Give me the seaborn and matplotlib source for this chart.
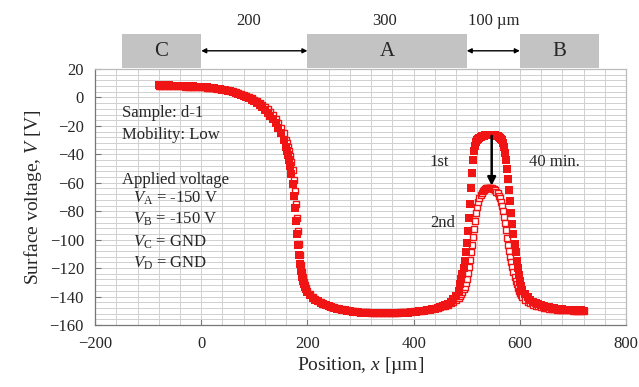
import matplotlib
matplotlib.use("Agg")
import matplotlib.pyplot as plt
from matplotlib.patches import Rectangle
from matplotlib.ticker import MultipleLocator
import seaborn as sns
import pandas as pd

# ---------------- data ----------------
position = [
    -80, -75, -70, -65, -60, -55, -50, -45, -40, -35, -30, -25, -20, -15, -10, -5,
    0, 5, 10, 15, 20, 25, 30, 35, 40, 45, 50, 55, 60, 65, 70, 75, 80, 85, 90, 95,
    100, 105, 110, 115, 120, 125, 130, 135, 140, 145, 150, 155, 160,
    162, 164, 166, 168, 170, 172, 174, 176, 178, 180, 182, 184, 186, 188, 190,
    192, 194, 196, 198, 200,
    205, 210, 215, 220, 225, 230, 235, 240, 245, 250, 255, 260, 265, 270, 275,
    280, 285, 290, 295, 300, 305, 310, 315, 320, 325, 330, 335, 340, 345, 350,
    355, 360, 365, 370, 375, 380, 385, 390, 395, 400, 405, 410, 415, 420, 425,
    430, 435, 440, 445, 450, 455, 460, 465, 470, 475, 480, 485,
    488, 490, 492, 494, 496, 498, 500, 502, 504, 506, 508, 510, 512, 514, 516,
    518, 520, 522, 524, 526, 528, 530, 532, 534, 536, 538, 540, 542, 544, 546,
    548, 550, 552, 554, 556, 558, 560, 562, 564, 566, 568, 570, 572, 574, 576,
    578, 580, 582, 584, 586, 588, 590, 592, 594, 596, 598, 600, 602, 604,
    610, 615, 620, 625, 630, 635, 640, 645, 650, 655, 660, 665, 670, 675, 680,
    685, 690, 695, 700, 705, 710, 715, 720,
]

v_first = [
    8.5, 8.5, 8.5, 8.4, 8.4, 8.3, 8.3, 8.2, 8.1, 8.0, 8.0, 7.9, 7.8, 7.7, 7.6, 7.5,
    7.4, 7.2, 7.0, 6.8, 6.6, 6.4, 6.1, 5.8, 5.5, 5.1, 4.7, 4.2, 3.7, 3.1, 2.5, 1.8,
    1.1, 0.3, -0.6, -1.6, -2.7, -3.9, -5.3, -6.9, -8.7, -10.7, -12.9, -15.4, -18.2,
    -21.5, -25.3, -29.8, -35.0,
    -37.5, -40.5, -44, -48.5, -54, -61, -69, -78, -87, -96, -104, -111, -117, -122,
    -126, -129, -131.5, -133.5, -135, -136.5,
    -139, -140.8, -142.2, -143.4, -144.4, -145.3, -146.1, -146.8, -147.4, -148,
    -148.5, -149, -149.4, -149.8, -150.1, -150.4, -150.7, -150.9, -151.1, -151.3,
    -151.4, -151.5, -151.6, -151.7, -151.8, -151.8, -151.9, -151.9, -151.9, -151.9,
    -151.9, -151.8, -151.8, -151.7, -151.6, -151.5, -151.4, -151.3, -151.1, -150.9,
    -150.7, -150.5, -150.3, -150.0, -149.7, -149.4, -149.0, -148.6, -148.1, -147.5,
    -146.8, -146.0, -145.0, -143.6, -141.8, -139.3, -136.0,
    -131, -128, -124, -120, -115, -109, -102, -94, -85, -75,
    -64, -53, -44, -38, -34, -31.5, -30, -29, -28.3, -27.8,
    -27.4, -27.1, -26.9, -26.7, -26.6, -26.5, -26.4, -26.4, -26.4, -26.4,
    -26.4, -26.5, -26.6, -26.7, -26.9, -27.2, -27.6, -28.2, -29, -30.2,
    -32, -35, -39, -44, -50, -57, -65, -73, -81, -89,
    -96, -103, -109, -115, -120, -125, -129, -132.5, -135.5,
    -138.5, -140.5, -142.2, -143.5, -144.5, -145.3, -146, -146.6, -147.1, -147.5,
    -147.9, -148.2, -148.5, -148.7, -148.9, -149.1, -149.3, -149.4, -149.5, -149.6,
    -149.7, -149.8, -149.9,
]

v_second = [
    8.0, 8.0, 8.0, 8.0, 7.9, 7.9, 7.8, 7.8, 7.7, 7.7, 7.6, 7.5, 7.5, 7.4, 7.3, 7.2,
    7.1, 7.0, 6.9, 6.7, 6.5, 6.3, 6.1, 5.9, 5.6, 5.3, 5.0, 4.6, 4.2, 3.7, 3.2, 2.6,
    1.9, 1.2, 0.4, -0.5, -1.5, -2.6, -3.8, -5.2, -6.7, -8.4, -10.3, -12.5, -15.0,
    -17.9, -21.3, -25.3, -30.0,
    -32, -34.5, -37.5, -41, -45.5, -51, -58, -66, -75, -84.5, -94, -103, -111,
    -117.5, -122.5, -126.5, -129.5, -132, -134, -135.8,
    -138.4, -140.3, -141.8, -143.0, -144.0, -144.9, -145.7, -146.4, -147.0, -147.6,
    -148.1, -148.6, -149.0, -149.4, -149.7, -150.0, -150.3, -150.5, -150.7, -150.9,
    -151.0, -151.1, -151.2, -151.3, -151.4, -151.4, -151.5, -151.5, -151.5, -151.5,
    -151.5, -151.4, -151.4, -151.3, -151.2, -151.1, -151.0, -150.9, -150.7, -150.5,
    -150.3, -150.1, -149.9, -149.6, -149.3, -149.0, -148.7, -148.3, -147.9, -147.4,
    -146.9, -146.3, -145.6, -144.7, -143.6, -142.3, -140.8,
    -139.5, -138.3, -136.8, -135, -133, -130.7, -128, -123.5, -119, -114,
    -109, -103.5, -98, -92.5, -87, -81.5, -77, -73.5, -70.8, -68.6,
    -67, -65.8, -64.9, -64.3, -63.9, -63.7, -63.6, -63.6, -63.6, -63.7,
    -63.9, -64.2, -64.7, -65.4, -66.3, -67.5, -69.0, -71.0, -73.5, -76.5,
    -80, -84, -88.5, -93.5, -98.5, -103.5, -108, -112, -116, -119.5,
    -123, -126, -129, -131.5, -134, -136, -137.8, -139.2, -140.4,
    -142.6, -143.8, -144.8, -145.6, -146.3, -146.9, -147.4, -147.8, -148.2, -148.5,
    -148.8, -149.0, -149.2, -149.4, -149.5, -149.6, -149.7, -149.8, -149.9, -150.0,
    -150.0, -150.1, -150.1,
]

electrode_names = ["C", "A", "B"]
electrode_start = [-150, 200, 600]
electrode_end = [0, 500, 750]
gap_labels = ["200", "300", "100 µm"]
gap_label_x = [90, 345, 550]

# ---------------- style ----------------
sns.set_theme(style="white")
plt.rcParams["font.family"] = ["Liberation Serif", "DejaVu Serif"]
plt.rcParams["mathtext.fontset"] = "custom"
plt.rcParams["mathtext.rm"] = "Liberation Serif"
plt.rcParams["mathtext.it"] = "Liberation Serif:italic"
plt.rcParams["mathtext.bf"] = "Liberation Serif:bold"

fig = plt.figure(figsize=(6.39, 3.87), dpi=100)
ax = fig.add_axes([0.1487, 0.1602, 0.8310, 0.6615])

df1 = pd.DataFrame({"x": position, "v": v_first})
df2 = pd.DataFrame({"x": position, "v": v_second})

red = "#f01414"
sns.scatterplot(data=df2, x="x", y="v", marker="s", s=13, color="white",
                edgecolor=red, linewidth=1.0, ax=ax, zorder=3)
sns.scatterplot(data=df1, x="x", y="v", marker="s", s=26, color=red,
                linewidth=0, ax=ax, zorder=4)

ax.set_xlim(-200, 800)
ax.set_ylim(-160, 20)
ax.xaxis.set_major_locator(MultipleLocator(200))
ax.xaxis.set_minor_locator(MultipleLocator(40))
ax.yaxis.set_major_locator(MultipleLocator(20))
ax.yaxis.set_minor_locator(MultipleLocator(4))
ax.grid(True, which="both", color="#d0d0d0", linewidth=0.7)
ax.set_axisbelow(True)
ax.tick_params(axis="both", which="major", direction="in", length=4, width=0.8,
               color="#777777", labelsize=12, pad=8, left=True, bottom=True)
ax.tick_params(axis="both", which="minor", length=0)
for side, sp in ax.spines.items():
    sp.set_color("#bbbbbb" if side in ("top", "right") else "#777777")
    sp.set_linewidth(0.9)

ax.set_xlabel("Position, $x$ [µm]", fontsize=14, labelpad=2)
ax.set_ylabel("Surface voltage, $V$ [V]", fontsize=14, labelpad=4)

# electrodes above the axes
for name, a, b in zip(electrode_names, electrode_start, electrode_end):
    ax.add_patch(Rectangle((a, 20.7), b - a, 24, facecolor="#c3c3c3",
                           edgecolor="none", clip_on=False, zorder=5))
    ax.text((a + b) / 2, 32.5, name, ha="center", va="center", fontsize=15,
            clip_on=False, zorder=6)
for a, b in [(0, 200), (500, 600)]:
    ax.annotate("", xy=(b, 32.8), xytext=(a, 32.8), annotation_clip=False,
                arrowprops=dict(arrowstyle="<|-|>", color="black", lw=1.0,
                                mutation_scale=7, shrinkA=0, shrinkB=0))
for lab, gx in zip(gap_labels, gap_label_x):
    ax.text(gx, 54, lab, ha="center", va="center", fontsize=12, clip_on=False)

# in-plot annotations
txt = dict(fontsize=12, ha="left", va="center")
ax.text(-150, -11, "Sample: d-1", **txt)
ax.text(-150, -26.5, "Mobility: Low", **txt)
ax.text(-150, -58, "Applied voltage", **txt)
ax.text(-128, -71, r"$V_{\mathrm{A}}$ = -150 V", **txt)
ax.text(-128, -86, r"$V_{\mathrm{B}}$ = -150 V", **txt)
ax.text(-128, -101.5, r"$V_{\mathrm{C}}$ = GND", **txt)
ax.text(-128, -116.5, r"$V_{\mathrm{D}}$ = GND", **txt)

ax.text(449, -45.5, "1st", fontsize=12, ha="center", va="center")
ax.text(455, -88.5, "2nd", fontsize=12, ha="center", va="center")
ax.text(666, -45.5, "40 min.", fontsize=12, ha="center", va="center")
ax.annotate("", xy=(547, -62), xytext=(547, -27),
            arrowprops=dict(arrowstyle="-|>", color="black", lw=1.8,
                            mutation_scale=12, shrinkA=0, shrinkB=0), zorder=6)

fig.savefig("out.png", dpi=100)
